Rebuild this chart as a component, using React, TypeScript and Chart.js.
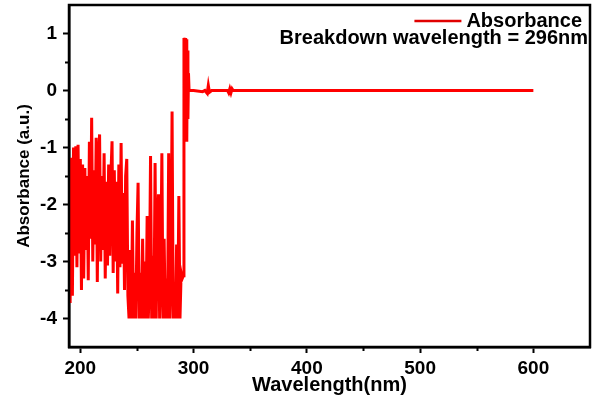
import React, { useEffect, useRef } from "react";
import { Chart, registerables } from "chart.js";

Chart.register(...registerables);

const wavelengths: number[] = [
  190, 191, 192, 193, 194, 195, 196, 197, 198, 199,
  200, 201, 202, 203, 204, 205, 206, 207, 208, 209,
  210, 211, 212, 213, 214, 215, 216, 217, 218, 219,
  220, 221, 222, 223, 224, 225, 226, 227, 228, 229,
  230, 231, 232, 233, 234, 235, 236, 237, 238, 239,
  240, 241, 242, 243, 244, 245, 246, 247, 248, 249,
  250, 251, 252, 253, 254, 255, 256, 257, 258, 259,
  260, 261, 262, 263, 264, 265, 266, 267, 268, 269,
  270, 271, 272, 273, 274, 275, 276, 277, 278, 279,
  280, 281, 282, 283, 284, 285, 286, 287, 288, 289,
  290, 291, 291.5, 292, 292.5, 293, 293.5, 294, 294.5, 295,
  295.5, 296, 300, 308, 310, 312, 313, 314, 316, 330,
  331, 332, 333, 334, 335, 400, 500, 600,
];

const absorbance: number[] = [
  -1.27, -3.73, -1.18, -3.6, -1.0, -2.9, -0.98, -3.1, -0.95, -2.86,
  -1.2, -3.5, -1.3, -3.3, -1.36, -2.8, -1.5, -3.33, -0.9, -2.6,
  -0.48, -3.0, -1.4, -2.7, -0.83, -3.36, -1.2, -0.77, -3.0, -1.5,
  -2.8, -1.1, -3.3, -1.6, -3.07, -1.3, -2.9, -1.5, -0.89, -3.2,
  -1.4, -3.0, -1.6, -3.56, -1.3, -3.1, -0.92, -3.04, -1.8, -3.5,
  -1.5, -1.2, -3.6, -4.0, -2.8, -4.0, -2.28, -4.0, -3.2, -4.0,
  -2.5, -1.62, -4.0, -3.2, -4.0, -2.6, -4.0, -3.0, -4.0, -2.2,
  -4.0, -3.4, -1.15, -4.0, -2.9, -4.0, -1.27, -4.0, -2.4, -1.82,
  -4.0, -3.2, -1.1, -4.0, -2.6, -4.0, -3.3, -4.0, -1.1, -4.0,
  -3.2, -0.37, -4.0, -3.4, -4.0, -2.7, -4.0, -1.85, -4.0, -3.2,
  -3.3, -3.25, 0.92, 0.85, 0.92, 0.7, 0.9, -0.9, 0.7, -0.5,
  0.3, 0.0, 0.0, -0.02, 0.0, -0.05, 0.09, -0.03, 0.0, 0.0,
  -0.04, 0.03, -0.04, 0.03, 0.0, 0.0, 0.0, 0.0,
];

const xTicks: number[] = [200, 300, 400, 500, 600];
const xMinorTicks: number[] = [250, 350, 450, 550];
const yTicks: number[] = [-4, -3, -2, -1, 0, 1];
const yMinorTicks: number[] = [-3.5, -2.5, -1.5, -0.5, 0.5];

const seriesLabel = "Absorbance";
const noteLabel = "Breakdown wavelength = 296nm";
const xTitle = "Wavelength(nm)";
const yTitle = "Absorbance (a.u.)";

const FONT = '"Liberation Sans", Arial, sans-serif';
const RED = "#ff0000";

const framePlugin = {
  id: "frameAndExtras",
  afterDraw(chart: any) {
    const { ctx, chartArea, scales } = chart;
    const xs = scales.x;
    const ys = scales.y;
    ctx.save();
    ctx.strokeStyle = "#000";
    ctx.lineWidth = 2.5;
    ctx.strokeRect(chartArea.left, chartArea.top, chartArea.right - chartArea.left, chartArea.bottom - chartArea.top);
    ctx.lineWidth = 2;
    ctx.beginPath();
    xMinorTicks.forEach((v) => {
      const px = Math.round(xs.getPixelForValue(v)) + 0.5;
      ctx.moveTo(px, chartArea.bottom);
      ctx.lineTo(px, chartArea.bottom + 4);
    });
    yMinorTicks.forEach((v) => {
      const py = Math.round(ys.getPixelForValue(v)) + 0.5;
      ctx.moveTo(chartArea.left, py);
      ctx.lineTo(chartArea.left - 4, py);
    });
    ctx.stroke();
    ctx.font = `bold 20px ${FONT}`;
    ctx.fillStyle = "#000";
    ctx.textBaseline = "middle";
    ctx.textAlign = "right";
    const r1 = chartArea.right - 8;
    const y1 = chartArea.top + 16;
    ctx.fillText(seriesLabel, r1, y1);
    const w1 = ctx.measureText(seriesLabel).width;
    ctx.strokeStyle = "#e00000";
    ctx.lineWidth = 2.5;
    ctx.beginPath();
    ctx.moveTo(r1 - w1 - 52, y1);
    ctx.lineTo(r1 - w1 - 5, y1);
    ctx.stroke();
    ctx.fillText(noteLabel, chartArea.right - 2, chartArea.top + 33);
    ctx.restore();
  },
};

export default function App() {
  const canvasRef = useRef<HTMLCanvasElement | null>(null);

  useEffect(() => {
    if (!canvasRef.current) return;
    const points = wavelengths.map((w, i) => ({ x: w, y: absorbance[i] }));
    const chart = new Chart(canvasRef.current, {
      type: "line",
      data: {
        datasets: [
          {
            label: seriesLabel,
            data: points,
            borderColor: RED,
            backgroundColor: RED,
            borderWidth: 3,
            pointRadius: 0,
            tension: 0,
            fill: false,
          },
        ],
      },
      options: {
        responsive: false,
        animation: false,
        devicePixelRatio: 1,
        layout: { padding: { left: 10, right: 4, top: 5, bottom: 6 } },
        plugins: {
          legend: { display: false },
          tooltip: { enabled: false },
        },
        scales: {
          x: {
            type: "linear",
            min: 190,
            max: 650,
            afterBuildTicks: (scale: any) => {
              scale.ticks = xTicks.map((v) => ({ value: v }));
            },
            afterFit: (scale: any) => {
              scale.height = 54;
              scale.paddingLeft = 0;
              scale.paddingRight = 0;
            },
            grid: {
              display: true,
              drawOnChartArea: false,
              drawTicks: true,
              tickLength: 6,
              tickWidth: 2,
              tickColor: "#000",
            },
            border: { display: true, color: "#000", width: 2.5 },
            ticks: {
              color: "#000",
              padding: 4,
              maxRotation: 0,
              font: { family: FONT, size: 19, weight: "bold" },
            },
            title: {
              display: true,
              text: xTitle,
              color: "#000",
              padding: { top: 0, bottom: 4 },
              font: { family: FONT, size: 20, weight: "bold" },
            },
          },
          y: {
            type: "linear",
            min: -4.5,
            max: 1.5,
            afterBuildTicks: (scale: any) => {
              scale.ticks = yTicks.map((v) => ({ value: v }));
            },
            afterFit: (scale: any) => {
              scale.width = 59;
              scale.paddingTop = 0;
              scale.paddingBottom = 0;
            },
            grid: {
              display: true,
              drawOnChartArea: false,
              drawTicks: true,
              tickLength: 6,
              tickWidth: 2,
              tickColor: "#000",
            },
            border: { display: true, color: "#000", width: 2.5 },
            ticks: {
              color: "#000",
              padding: 6,
              font: { family: FONT, size: 19, weight: "bold" },
            },
            title: {
              display: true,
              text: yTitle,
              color: "#000",
              padding: { top: 4, bottom: 0 },
              font: { family: FONT, size: 17, weight: "bold" },
            },
          },
        },
      },
      plugins: [framePlugin],
    } as any);
    return () => chart.destroy();
  }, []);

  return (
    <div style={{ position: "fixed", left: 0, top: 0, width: 594, height: 407, background: "#fff" }}>
      <canvas ref={canvasRef} width={594} height={407} />
    </div>
  );
}
